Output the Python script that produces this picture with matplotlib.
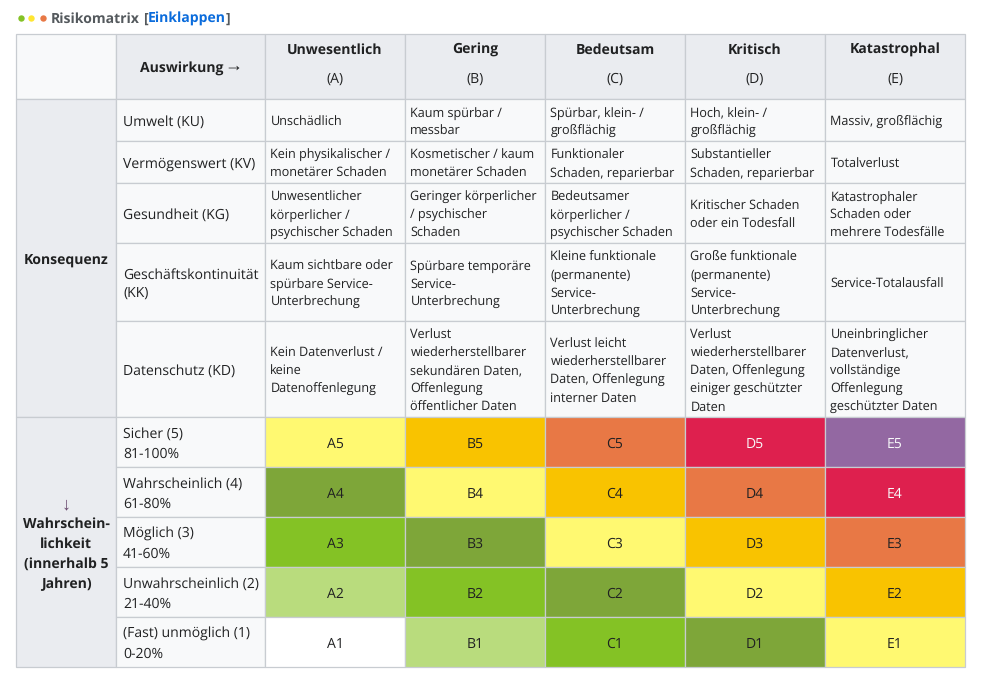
import matplotlib
matplotlib.use("Agg")
import matplotlib.pyplot as plt
from matplotlib.patches import Rectangle

plt.rcParams['font.family'] = ['Open Sans', 'DejaVu Sans']
plt.rcParams['text.hinting'] = 'no_hinting'

impact_names = ["Unwesentlich", "Gering", "Bedeutsam", "Kritisch", "Katastrophal"]
impact_letters = ["A", "B", "C", "D", "E"]
consequence_labels = ["Umwelt (KU)", "Vermögenswert (KV)", "Gesundheit (KG)",
                      "Geschäftskontinuität\n(KK)", "Datenschutz (KD)"]
consequence_cells = [
    ["Unschädlich", "Kaum spürbar /\nmessbar", "Spürbar, klein- /\ngroßflächig",
     "Hoch, klein- /\ngroßflächig", "Massiv, großflächig"],
    ["Kein physikalischer /\nmonetärer Schaden", "Kosmetischer / kaum\nmonetärer Schaden",
     "Funktionaler\nSchaden, reparierbar", "Substantieller\nSchaden, reparierbar", "Totalverlust"],
    ["Unwesentlicher\nkörperlicher /\npsychischer Schaden", "Geringer körperlicher\n/ psychischer\nSchaden",
     "Bedeutsamer\nkörperlicher /\npsychischer Schaden", "Kritischer Schaden\noder ein Todesfall",
     "Katastrophaler\nSchaden oder\nmehrere Todesfälle"],
    ["Kaum sichtbare oder\nspürbare Service-\nUnterbrechung", "Spürbare temporäre\nService-\nUnterbrechung",
     "Kleine funktionale\n(permanente)\nService-\nUnterbrechung", "Große funktionale\n(permanente)\nService-\nUnterbrechung",
     "Service-Totalausfall"],
    ["Kein Datenverlust /\nkeine\nDatenoffenlegung",
     "Verlust\nwiederherstellbarer\nsekundären Daten,\nOffenlegung\nöffentlicher Daten",
     "Verlust leicht\nwiederherstellbarer\nDaten, Offenlegung\ninterner Daten",
     "Verlust\nwiederherstellbarer\nDaten, Offenlegung\neiniger geschützter\nDaten",
     "Uneinbringlicher\nDatenverlust,\nvollständige\nOffenlegung\ngeschützter Daten"],
]
likelihood_labels = ["Sicher (5)\n81-100%", "Wahrscheinlich (4)\n61-80%", "Möglich (3)\n41-60%",
                     "Unwahrscheinlich (2)\n21-40%", "(Fast) unmöglich (1)\n0-20%"]
likelihood_numbers = [5, 4, 3, 2, 1]
risk_levels = [
    [3, 4, 5, 6, 7],
    [2, 3, 4, 5, 6],
    [1, 2, 3, 4, 5],
    [0, 1, 2, 3, 4],
    [-1, 0, 1, 2, 3],
]
level_colors = {-1: "#FFFFFF", 0: "#B9DC7D", 1: "#84C225", 2: "#7EA639", 3: "#FFF971",
                4: "#F9C300", 5: "#E87845", 6: "#DE204E", 7: "#9368A2"}
light_text_levels = [6, 7]

# layout (pixels)
W, H = 983, 685
col_edges = [16, 116, 265, 405, 545, 685, 825, 965]
row_edges = [34, 99, 141, 183, 243, 321, 417, 467, 517, 567, 617, 667]
GRID = "#C8CCD1"; HEAD = "#EAECF0"; BODY = "#F8F9FA"; INK = "#202122"
LH = 18
FS = 9.07      # body text
FS_L = 10.08   # row labels

fig = plt.figure(figsize=(W/100, H/100), dpi=100, facecolor="white")
ax = fig.add_axes([0, 0, 1, 1])
ax.set_xlim(0, W); ax.set_ylim(H, 0); ax.axis("off")

def cell(x0, x1, y0, y1, color):
    ax.add_patch(Rectangle((x0, y0), x1-x0, y1-y0, facecolor=color, edgecolor=GRID, linewidth=0.9))

def t(x, y, s, fs=None, ha="left", color=INK, weight="normal", **kw):
    ax.text(x, y, s, fontsize=fs or FS_L, ha=ha, va="baseline", color=color, fontweight=weight, **kw)

def lines(x, ybase, s, fs, ha="left", lh=LH, weight="normal"):
    parts = s.split("\n")
    for i, p in enumerate(parts):
        t(x, ybase + (i-(len(parts)-1)/2)*lh, p, fs, ha=ha, weight=weight)

# title
for x, c in zip([20.5, 31, 43], ["#84C225", "#FFE632", "#E87845"]):
    ax.plot([x], [18], "o", ms=4.6, color=c, mec="none")
TFS = 10.1
t(51, 22.5, "Risikomatrix", TFS, color="#54595D", weight="bold")
t(143, 22.5, "[", TFS, color="#54595D", weight="bold")
t(148, 22.5, "Einklappen", TFS, color="#0B6CDC", weight="bold")
t(225.5, 22.5, "]", TFS, color="#54595D", weight="bold")

# header row
cell(col_edges[0], col_edges[1], row_edges[0], row_edges[1], BODY)
cell(col_edges[1], col_edges[2], row_edges[0], row_edges[1], HEAD)
t(140, 73, "Auswirkung", weight="bold")
t(233.5, 71, "→", 13, ha="center", family="Liberation Sans")
for j, (n, l) in enumerate(zip(impact_names, impact_letters)):
    x0, x1 = col_edges[j+2], col_edges[j+3]
    cell(x0, x1, row_edges[0], row_edges[1], HEAD)
    t((x0+x1)/2, 54, n, ha="center", weight="bold")
    t((x0+x1)/2, 83, f"({l})", ha="center")

# left spanning cells
cell(col_edges[0], col_edges[1], row_edges[1], row_edges[6], HEAD)
t(66, 264, "Konsequenz", ha="center", weight="bold")
cell(col_edges[0], col_edges[1], row_edges[6], row_edges[11], HEAD)
t(66, 509, "↓", 13, ha="center", color="#6A4A6E", family="Liberation Sans")
lines(66, 558, "Wahrschein-\nlichkeit\n(innerhalb 5\nJahren)", FS_L, ha="center", lh=20, weight="bold")

# consequence rows
for i, lab in enumerate(consequence_labels):
    y0, y1 = row_edges[i+1], row_edges[i+2]
    cell(col_edges[1], col_edges[2], y0, y1, BODY)
    lines(123, (y0+y1)/2 + 6, lab, FS_L)
    for j, s in enumerate(consequence_cells[i]):
        x0, x1 = col_edges[j+2], col_edges[j+3]
        cell(x0, x1, y0, y1, BODY)
        lines(x0+5.4, (y0+y1)/2 + 6, s, FS)

# likelihood rows
for i, lab in enumerate(likelihood_labels):
    y0, y1 = row_edges[i+6], row_edges[i+7]
    cell(col_edges[1], col_edges[2], y0, y1, BODY)
    lines(123, (y0+y1)/2 + 6, lab, FS_L, lh=20)
    for j, lev in enumerate(risk_levels[i]):
        x0, x1 = col_edges[j+2], col_edges[j+3]
        cell(x0, x1, y0, y1, level_colors[lev])
        t((x0+x1)/2, (y0+y1)/2 + 6, f"{impact_letters[j]}{likelihood_numbers[i]}", ha="center",
          color="#F8F9FA" if lev in light_text_levels else INK)

fig.savefig("out.png", dpi=100, facecolor="white")
